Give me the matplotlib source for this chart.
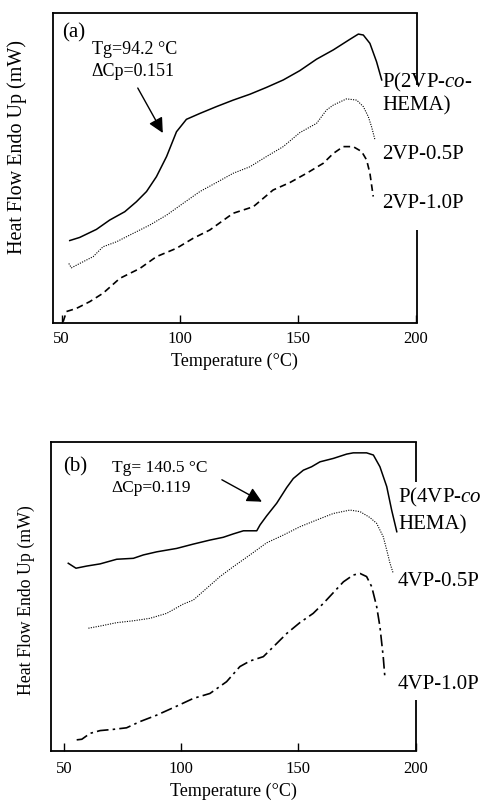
import matplotlib
matplotlib.use("Agg")
import matplotlib.pyplot as plt

plt.rcParams['font.family'] = ['Liberation Serif', 'DejaVu Serif']
plt.rcParams['mathtext.fontset'] = 'custom'
plt.rcParams['mathtext.rm'] = 'Liberation Serif'
plt.rcParams['mathtext.it'] = 'Liberation Serif:italic'

# ---------------- Panel (a) data ----------------
a_solid_T = [53.4, 57.6, 64.7, 70.3, 76.7, 81.6, 85.9, 90.1, 94.4, 98.6, 102.8, 108.5, 115.5,
             122.6, 129.7, 136.7, 143.8, 150.8, 157.9, 165.0, 172.0, 175.6, 177.7, 180.5, 183.3, 185.5]
a_solid_y = [26.6, 27.6, 30.2, 33.2, 35.9, 39.1, 42.4, 47.2, 53.7, 61.7, 65.7, 67.6, 69.8,
             71.9, 73.8, 76.0, 78.4, 81.4, 85.1, 88.1, 91.5, 93.2, 92.9, 90.2, 84.3, 78.4]

a_dot_T = [53.0, 54.1, 57.6, 63.3, 67.5, 73.2, 80.2, 87.3, 94.4, 101.4, 108.5, 115.5, 122.6,
           129.7, 136.7, 143.8, 150.8, 157.9, 162.1, 165.0, 170.6, 174.9, 177.7, 179.8, 181.2, 182.6]
a_dot_y = [19.2, 17.8, 19.2, 21.4, 24.6, 26.2, 28.9, 31.6, 34.8, 38.6, 42.4, 45.3, 48.3,
           50.4, 53.7, 56.9, 61.4, 64.4, 68.7, 70.3, 72.3, 71.9, 69.8, 66.6, 63.3, 59.2]

a_dash_T = [50.6, 52.0, 56.2, 61.9, 67.5, 74.6, 83.1, 90.1, 98.6, 105.6, 112.7, 122.6, 131.1,
            139.5, 146.6, 153.7, 160.7, 165.0, 169.2, 173.4, 177.0, 179.1, 180.5, 181.9]
a_dash_y = [0.4, 3.7, 4.7, 6.9, 9.6, 14.4, 17.6, 21.4, 24.1, 27.3, 30.0, 35.4, 37.5,
            42.9, 45.3, 48.3, 51.5, 54.7, 56.9, 56.9, 55.3, 52.6, 48.3, 40.8]

# ---------------- Panel (b) data ----------------
b_solid_T = [51.7, 55.0, 59.6, 65.3, 72.4, 79.5, 83.8, 89.5, 98.0, 105.1, 112.2, 117.9, 122.2,
             126.5, 132.2, 133.6, 136.4, 140.7, 145.0, 147.8, 152.1, 155.6, 159.2, 164.9, 170.6,
             173.4, 179.1, 182.0, 184.8, 187.7, 189.8, 192.0]
b_solid_y = [60.7, 59.1, 59.8, 60.5, 62.0, 62.3, 63.4, 64.4, 65.5, 66.9, 68.2, 69.1, 70.2,
             71.2, 71.2, 73.1, 76.0, 80.1, 85.2, 88.1, 90.8, 91.9, 93.5, 94.6, 96.0,
             96.4, 96.4, 95.7, 91.9, 85.5, 77.9, 70.9]

b_dot_T = [60.3, 65.3, 72.4, 79.5, 86.6, 93.7, 100.8, 105.1, 110.8, 116.5, 122.2, 129.3, 136.4,
           143.5, 150.6, 157.8, 164.9, 172.0, 176.3, 180.5, 183.4, 186.2, 187.7, 189.1, 190.5]
b_dot_y = [39.7, 40.4, 41.5, 42.1, 42.9, 44.5, 47.5, 48.8, 52.6, 56.4, 59.6, 63.4, 67.3,
           69.8, 72.5, 74.7, 76.8, 77.9, 77.4, 75.5, 73.6, 69.3, 65.0, 60.7, 57.4]

b_dd_T = [55.3, 57.5, 61.0, 65.3, 71.0, 76.6, 82.3, 89.5, 98.0, 105.1, 112.2, 119.3, 125.0,
          129.3, 135.0, 139.3, 145.0, 150.6, 156.3, 160.6, 164.9, 169.2, 173.4, 176.3, 179.1,
          181.3, 183.4, 184.8, 186.2, 186.9]
b_dd_y = [3.6, 3.8, 5.7, 6.6, 7.0, 7.5, 9.5, 11.6, 14.5, 17.0, 18.6, 22.4, 27.3,
          29.1, 30.5, 33.7, 38.0, 41.5, 44.5, 47.7, 51.2, 54.7, 56.9, 57.4, 56.4,
          53.1, 46.7, 40.2, 30.5, 24.0]

xticks = [50, 100, 150, 200]
a_labels = ["P(2VP-$\\mathit{co}$-", "HEMA)", "2VP-0.5P", "2VP-1.0P"]
b_labels = ["P(4VP-$\\mathit{co}$", "HEMA)", "4VP-0.5P", "4VP-1.0P"]

fig = plt.figure(figsize=(4.87, 8.0), dpi=100)
ax1 = fig.add_axes([0.1088, 0.59625, 0.7468, 0.3875])
ax2 = fig.add_axes([0.1041, 0.06125, 0.7501, 0.3866])


def style(ax, xlim, spine_segs, ylab_fs, ylab_xy, pad):
    ax.set_xlim(*xlim)
    ax.set_ylim(0, 100)
    ax.set_xticks(xticks)
    ax.set_yticks([])
    ax.tick_params(axis='x', direction='in', length=6, width=1.0, labelsize=12, pad=pad)
    for s in ['left', 'top', 'bottom']:
        ax.spines[s].set_linewidth(1.3)
    ax.spines['right'].set_visible(False)
    for (y0, y1) in spine_segs:
        ax.plot([1, 1], [y0, y1], transform=ax.transAxes, color='black', lw=1.3,
                clip_on=False, solid_capstyle='butt')
    ax.set_xlabel("Temperature (°C)", fontsize=13, labelpad=4)
    ax.set_ylabel("Heat Flow Endo Up (mW)", fontsize=ylab_fs)
    ax.yaxis.set_label_coords(*ylab_xy)


# Panel (a)
ax1.plot(a_solid_T, a_solid_y, color='black', lw=1.1, ls='-')
ax1.plot(a_dot_T, a_dot_y, color='black', lw=0.8, ls=(0, (1, 1.2)))
ax1.plot(a_dash_T, a_dash_y, color='black', lw=1.2, ls=(0, (4, 2.5)))
style(ax1, (46.3, 200.3), [(0.768, 1.0), (0.0, 0.30)], 14.5, (-0.071, 0.568), 5.5)
ax1.text(50.1, 93.5, "(a)", fontsize=15, va='center', ha='left')
ax1.text(62.7, 88.1, "Tg=94.2 °C", fontsize=13, va='center', ha='left')
ax1.text(62.7, 81.0, "ΔCp=0.151", fontsize=13, va='center', ha='left')
ax1.annotate("", xy=(92.8, 61.3), xytext=(82.2, 75.8),
             arrowprops=dict(arrowstyle='-|>,head_length=0.9,head_width=0.45',
                             color='black', lw=1.0, shrinkA=0, shrinkB=0))
for lab, yy in zip(a_labels, [0.777, 0.700, 0.542, 0.384]):
    ax1.text(0.905, yy, lab, transform=ax1.transAxes, fontsize=15, va='center',
             ha='left', clip_on=False)

# Panel (b)
ax2.plot(b_solid_T, b_solid_y, color='black', lw=1.1, ls='-')
ax2.plot(b_dot_T, b_dot_y, color='black', lw=0.8, ls=(0, (1, 1.2)))
ax2.plot(b_dd_T, b_dd_y, color='black', lw=1.2, ls=(0, (7, 2.5, 1.5, 2.5)))
style(ax2, (44.2, 200.2), [(0.871, 1.0), (0.0, 0.165)], 12.8, (-0.043, 0.489), 7.5)
ax2.text(49.6, 91.9, "(b)", fontsize=15, va='center', ha='left')
ax2.text(70.2, 91.6, "Tg= 140.5 °C", fontsize=12.5, va='center', ha='left')
ax2.text(70.2, 85.1, "ΔCp=0.119", fontsize=12.5, va='center', ha='left')
ax2.annotate("", xy=(134.4, 80.6), xytext=(117.3, 87.7),
             arrowprops=dict(arrowstyle='-|>,head_length=0.9,head_width=0.45',
                             color='black', lw=1.0, shrinkA=0, shrinkB=0))
for lab, yy in zip(b_labels, [0.819, 0.731, 0.547, 0.214]):
    ax2.text(0.951, yy, lab, transform=ax2.transAxes, fontsize=15, va='center',
             ha='left', clip_on=False)

fig.savefig("out.png", dpi=100)
